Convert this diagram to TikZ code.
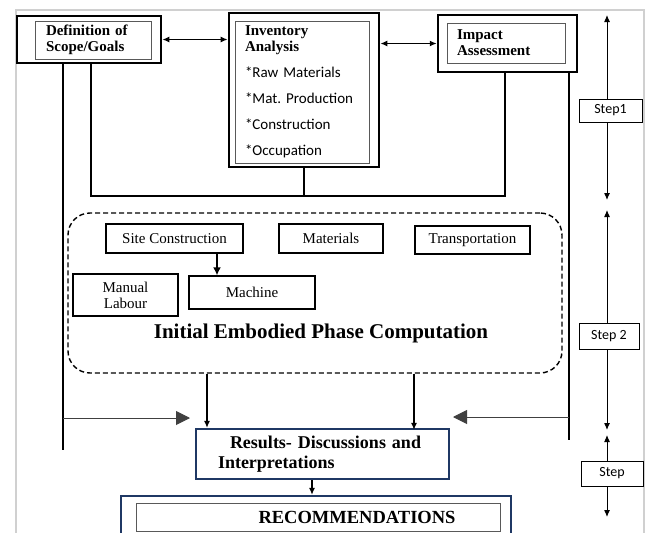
\documentclass[tikz,border=0pt]{standalone}
\usepackage{fontspec}
\setmainfont{Liberation Serif}
\newfontfamily\calibri{Carlito}
\usetikzlibrary{arrows.meta,positioning,calc}
\definecolor{navy}{RGB}{31,56,100}
\definecolor{framegray}{RGB}{208,208,208}
\definecolor{tipgray}{RGB}{64,64,64}
\tikzset{
  thickbox/.style={draw, line width=2.8pt, inner sep=0pt},
  innerbox/.style={draw=black!65, line width=0.8pt, inner ysep=0pt, align=left,
    font=\bfseries\fontsize{15}{16}\selectfont},
  plainbox/.style={draw, line width=1.3pt, inner sep=0pt, align=center,
    font=\fontsize{15}{16}\selectfont},
  bluebox/.style={draw=navy, line width=2.2pt, inner sep=0pt},
  stepbox/.style={draw, fill=white, line width=0.8pt, inner sep=0pt,
    font=\calibri\fontsize{14}{16}\selectfont},
  link/.style={line width=1.4pt},
  smallarr/.style={line width=1.3pt, -{Latex[length=7pt,width=6pt]}},
  steparr/.style={line width=1pt, {Latex[length=7pt,width=6pt]}-{Latex[length=7pt,width=6pt]}},
  bigarr/.style={line width=1pt, draw=tipgray, -{Triangle[length=14pt,width=14pt,fill=tipgray]}}
}
\begin{document}
\begin{tikzpicture}[x=1pt,y=-1pt]
\useasboundingbox (0,0) rectangle (649,533);
\clip (0,0) rectangle (649,533);
% frame
\draw[framegray, line width=1.6pt] (16,540) -- (16,10) -- (644,10) -- (644,540);

% step 1 boxes
\node[thickbox, minimum width=144, minimum height=47] (defout) at (89,39.5) {};
\node[innerbox, minimum width=116, minimum height=38, inner xsep=11pt, text width=94pt] (def) at (93,40) {Definition of\\Scope/Goals};
\node[thickbox, minimum width=150, minimum height=154] (invout) at (304,90) {};
\node[innerbox, minimum width=134, minimum height=142, inner xsep=10pt, text width=114pt] (inv) at (302,92)
  {Inventory\\Analysis\\[10pt]{\calibri\mdseries *Raw Materials}\\[10pt]{\calibri\mdseries *Mat.\ Production}\\[10pt]{\calibri\mdseries *Construction}\\[10pt]{\calibri\mdseries *Occupation}};
\node[thickbox, line width=2.5pt, minimum width=139, minimum height=57] (impout) at (507.5,43.5) {};
\node[innerbox, minimum width=118, minimum height=40, inner xsep=10pt, text width=98pt] (imp) at (506,43) {Impact\\Assessment};

\draw[line width=1.3pt, {Latex[length=7pt,width=6pt]}-{Latex[length=7pt,width=6pt]}] (defout.east) -- (invout.west |- defout.east);
\draw[line width=1.3pt, {Latex[length=7pt,width=6pt]}-{Latex[length=7pt,width=6pt]}] (invout.east |- impout.west) -- (impout.west);

% connectors
\coordinate (lefttail) at (63,450);
\coordinate (righttail) at (569,440);
\coordinate (busl) at (91,196);
\coordinate (busr) at (505,196);
\draw[link] (defout.south -| lefttail) -- (lefttail);
\draw[link] (defout.south -| busl) -- (busl) -- (busr) -- (impout.south -| busr);
\draw[link] (invout.south) -- (invout.south |- busl);
\draw[link] (impout.south -| righttail) -- (righttail);

% step 2
\node[draw, line width=1.4pt, dash pattern=on 5pt off 3pt, rounded corners=22pt,
  minimum width=494, minimum height=160] (phase) at (315,293) {};
\node[plainbox, minimum width=137, minimum height=29] (site) at (174.5,238.5) {Site Construction};
\node[plainbox, minimum width=104, minimum height=29] (mat) at (331,238.5) {Materials};
\node[plainbox, minimum width=115, minimum height=28] (trans) at (472.5,240) {Transportation};
\node[plainbox, minimum width=126, minimum height=33] (mach) at (252,292.5) {Machine};
\node[plainbox, minimum width=105, minimum height=42] (manual) at (125.5,295) {Manual\\Labour};
\coordinate (sm) at (217,0);
\draw[line width=2pt, -{Latex[length=8pt,width=8pt]}] (site.south -| sm) -- (mach.north -| sm);
\node[font=\bfseries\fontsize{21}{24}\selectfont] (phasetitle) at (321,333) {Initial Embodied Phase Computation};

% results
\node[bluebox, minimum width=253, minimum height=50, inner xsep=22pt, text width=209pt, align=left,
  font=\bfseries\fontsize{18}{20}\selectfont] (results) at (322.5,454)
  {\hspace*{12pt}Results- Discussions and\\Interpretations};
\coordinate (ca) at (207,0);
\coordinate (cb) at (414,0);
\draw[smallarr] (phase.south -| ca) -- (results.north -| ca);
\draw[smallarr] (phase.south -| cb) -- ([yshift=-2pt]results.north -| cb);
\coordinate (lin) at (63,418);
\coordinate (lout) at (190,418);
\coordinate (rin) at (569,417);
\coordinate (rout) at (453,417);
\draw[bigarr] (lin) -- (lout);
\draw[bigarr] (rin) -- (rout);

% recommendations
\node[bluebox, minimum width=390, minimum height=64] (recout) at (316,528) {};
\node[draw=black!65, line width=0.8pt, minimum width=364, minimum height=28, inner sep=0pt,
  font=\bfseries\fontsize{18.5}{20}\selectfont] (rec) at (318,517) {\hspace*{78pt}RECOMMENDATIONS};
\coordinate (cr) at (312,0);
\draw[smallarr] (results.south -| cr) -- (recout.north -| cr);

% steps
\coordinate (s1top) at (607,15);
\coordinate (s1bot) at (607,200);
\draw[steparr] (s1top) -- (s1bot);
\node[stepbox, minimum width=63, minimum height=23] (stepone) at (610.5,110.5) {Step1};
\coordinate (s2top) at (607,210);
\coordinate (s2bot) at (607,430);
\draw[steparr] (s2top) -- (s2bot);
\node[stepbox, minimum width=60, minimum height=26] (steptwo) at (609,336) {Step 2};
\node[stepbox, minimum width=62, minimum height=25] (stepthree) at (612,473.5) {Step};
\coordinate (s3top) at (607,435);
\coordinate (s3bot) at (607,517);
\draw[line width=1pt, -{Latex[length=7pt,width=6pt]}] (stepthree.north -| s3top) -- (s3top);
\draw[line width=1pt, -{Latex[length=7pt,width=6pt]}] (stepthree.south -| s3bot) -- (s3bot);
\end{tikzpicture}
\end{document}
